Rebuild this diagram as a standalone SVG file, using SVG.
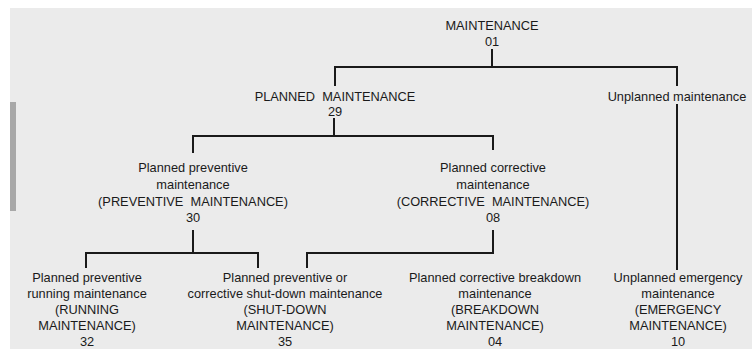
<svg xmlns="http://www.w3.org/2000/svg" width="752" height="349" viewBox="0 0 752 349">
<style>
text{font-family:"Liberation Sans",Arial,sans-serif;font-size:12.8px;fill:#1a1a1a;text-anchor:middle;white-space:pre}
.c line{stroke:#1a1a1a;stroke-width:2;fill:none}
</style>
<rect x="0" y="0" width="752" height="349" fill="#ffffff"/>
<rect x="10" y="8" width="742" height="341" fill="#ebebeb"/>
<rect x="10" y="102" width="6" height="109" fill="#a8a8a8"/>
<g class="c" id="connectors">
<line x1="492" y1="49" x2="492" y2="67"/>
<line x1="334" y1="67" x2="678" y2="67"/>
<line x1="335" y1="66" x2="335" y2="86"/>
<line x1="677" y1="66" x2="677" y2="86"/>
<line x1="334" y1="118" x2="334" y2="136"/>
<line x1="192" y1="136" x2="494" y2="136"/>
<line x1="193" y1="135" x2="193" y2="153"/>
<line x1="493" y1="135" x2="493" y2="150"/>
<line x1="193" y1="230" x2="193" y2="253"/>
<line x1="85" y1="253" x2="259" y2="253"/>
<line x1="86" y1="252" x2="86" y2="268"/>
<line x1="258" y1="252" x2="258" y2="268"/>
<line x1="493" y1="230" x2="493" y2="253"/>
<line x1="306" y1="253" x2="494" y2="253"/>
<line x1="307" y1="252" x2="307" y2="268"/>
<line x1="677" y1="104" x2="677" y2="270"/>
</g>
<g id="n01"><text x="492" y="30">MAINTENANCE</text><text x="492" y="46">01</text></g>
<g id="n29"><text x="335" y="101">PLANNED  MAINTENANCE</text><text x="335" y="116">29</text></g>
<g id="nUnplanned"><text x="677" y="101">Unplanned maintenance</text></g>
<g id="n30"><text x="193" y="172">Planned preventive</text><text x="193" y="189">maintenance</text><text x="193" y="206">(PREVENTIVE  MAINTENANCE)</text><text x="193" y="222">30</text></g>
<g id="n08"><text x="493" y="172">Planned corrective</text><text x="493" y="189">maintenance</text><text x="493" y="206">(CORRECTIVE  MAINTENANCE)</text><text x="493" y="222">08</text></g>
<g id="n32"><text x="87" y="282">Planned preventive</text><text x="87" y="298">running maintenance</text><text x="87" y="314">(RUNNING</text><text x="87" y="330">MAINTENANCE)</text><text x="87" y="346">32</text></g>
<g id="n35"><text x="285" y="282">Planned preventive or</text><text x="285" y="298">corrective shut-down maintenance</text><text x="285" y="314">(SHUT-DOWN</text><text x="285" y="330">MAINTENANCE)</text><text x="285" y="346">35</text></g>
<g id="n04"><text x="495" y="282">Planned corrective breakdown</text><text x="495" y="298">maintenance</text><text x="495" y="314">(BREAKDOWN</text><text x="495" y="330">MAINTENANCE)</text><text x="495" y="346">04</text></g>
<g id="n10"><text x="678" y="282">Unplanned emergency</text><text x="678" y="298">maintenance</text><text x="678" y="314">(EMERGENCY</text><text x="678" y="330">MAINTENANCE)</text><text x="678" y="346">10</text></g>
</svg>
